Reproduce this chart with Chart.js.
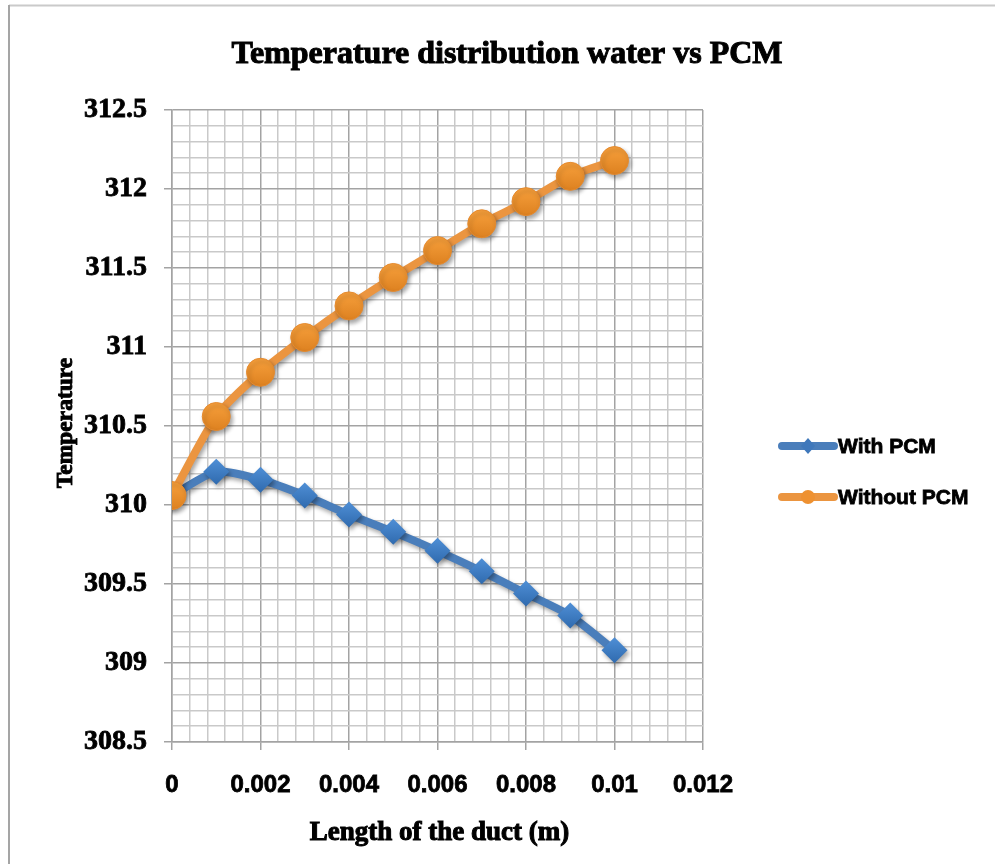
<!DOCTYPE html>
<html>
<head>
<meta charset="utf-8">
<script src="https://cdn.jsdelivr.net/npm/chart.js@4/dist/chart.umd.min.js"></script>
<style>
  html, body { margin: 0; padding: 0; background: #fff; }
  canvas { display: block; }
</style>
</head>
<body>
<canvas id="tempChart" width="995" height="864"></canvas>
<script>
// Length along the duct (m) and temperatures for both cases
const lengths = [0, 0.001, 0.002, 0.003, 0.004, 0.005, 0.006, 0.007, 0.008, 0.009, 0.01];
const withPcm = [310.06, 310.21, 310.16, 310.06, 309.94, 309.83, 309.71, 309.58, 309.44, 309.30, 309.08];
const withoutPcm = [310.06, 310.56, 310.84, 311.06, 311.26, 311.44, 311.61, 311.78, 311.92, 312.08, 312.18];

// Labelled ticks; the grid has 5 minor divisions between them
const xTickLabels = [0, 0.002, 0.004, 0.006, 0.008, 0.01, 0.012];
const yTickLabels = [308.5, 309, 309.5, 310, 310.5, 311, 311.5, 312, 312.5];
const minorDivisions = 5;

const BLUE = '#4a7ebb';
const ORANGE = '#eb9540';
const MAJOR_GRID = '#a3a3a3';
const MINOR_GRID = '#c9c9c9';
const SERIF = '"Liberation Serif", "Times New Roman", serif';
const SANS = '"Liberation Sans", Arial, sans-serif';

const isMajor = (v, list) => list.some(m => Math.abs(m - v) < 1e-9);

function withMinor(list) {
  const out = [];
  for (let i = 0; i < list.length; i++) {
    out.push({ value: list[i] });
    if (i < list.length - 1) {
      const step = (list[i + 1] - list[i]) / minorDivisions;
      for (let k = 1; k < minorDivisions; k++) out.push({ value: list[i] + step * k });
    }
  }
  return out;
}

const fmt = v => String(parseFloat(v.toFixed(4)));

// marker fill shaded from light on top to darker at the bottom
function markerFill(light, dark, r) {
  return ctx => {
    const chart = ctx.chart;
    const el = ctx.element;
    if (!el || !chart.ctx || el.y === undefined) return dark;
    const g = chart.ctx.createLinearGradient(0, el.y - r, 0, el.y + r);
    g.addColorStop(0, light);
    g.addColorStop(1, dark);
    return g;
  };
}

// heavy text: filled and outlined
function boldText(c, text, x, y, font, stroke) {
  c.font = font;
  c.fillStyle = '#000';
  c.strokeStyle = '#000';
  c.lineWidth = stroke;
  c.fillText(text, x, y);
  c.strokeText(text, x, y);
}

const decorations = {
  id: 'decorations',
  beforeDraw(chart) {
    const c = chart.ctx;
    c.save();
    c.lineWidth = 2;
    c.strokeStyle = '#cacaca';
    c.beginPath();
    c.moveTo(9, 5.5);
    c.lineTo(995, 5.5);
    c.stroke();
    c.strokeStyle = '#a5a5a5';
    c.beginPath();
    c.moveTo(9, 5);
    c.lineTo(9, 864);
    c.stroke();
    c.restore();
  },
  beforeDatasetDraw(chart) {
    const c = chart.ctx;
    c.save();
    c.shadowColor = 'rgba(0,0,0,0.35)';
    c.shadowBlur = 4;
    c.shadowOffsetX = 2;
    c.shadowOffsetY = 3;
  },
  afterDatasetDraw(chart) {
    chart.ctx.restore();
  },
  afterDraw(chart) {
    const c = chart.ctx;
    const area = chart.chartArea;
    c.save();
    c.textAlign = 'center';
    c.textBaseline = 'middle';
    boldText(c, 'Temperature distribution water vs PCM', 507, 55, 'bold 32px ' + SERIF, 1);

    // axis titles
    boldText(c, 'Length of the duct (m)', (area.left + area.right) / 2 + 2, 833, 'bold 27px ' + SERIF, 1);
    c.save();
    c.translate(66, (area.top + area.bottom) / 2 - 3);
    c.rotate(-Math.PI / 2);
    boldText(c, 'Temperature', 0, 0, 'bold 23.5px ' + SERIF, 0.9);
    c.restore();

    // legend
    const items = [
      { text: 'With PCM', color: BLUE, y: 446, shape: 'diamond' },
      { text: 'Without PCM', color: ORANGE, y: 497, shape: 'circle' }
    ];
    items.forEach(it => {
      c.strokeStyle = it.color;
      c.lineWidth = 8;
      c.lineCap = 'round';
      c.beginPath();
      c.moveTo(782, it.y);
      c.lineTo(834, it.y);
      c.stroke();
      c.fillStyle = it.shape === 'diamond' ? '#3f78bb' : '#ee9131';
      c.beginPath();
      if (it.shape === 'diamond') {
        c.moveTo(808, it.y - 8);
        c.lineTo(815, it.y);
        c.lineTo(808, it.y + 8);
        c.lineTo(801, it.y);
        c.closePath();
      } else {
        c.arc(808, it.y, 7, 0, Math.PI * 2);
      }
      c.fill();
      c.textAlign = 'left';
      boldText(c, it.text, 838, it.y + 1, 'bold 21px ' + SANS, 0.8);
    });
    c.restore();
  }
};

const ctx = document.getElementById('tempChart').getContext('2d');
new Chart(ctx, {
  type: 'line',
  data: {
    datasets: [
      {
        label: 'With PCM',
        data: lengths.map((x, i) => ({ x: x, y: withPcm[i] })),
        borderColor: BLUE,
        borderWidth: 8,
        tension: 0.25,
        pointStyle: 'rectRot',
        pointRadius: 13,
        pointBorderWidth: 0,
        pointBackgroundColor: markerFill('#4f8fd6', '#2f6aae', 13),
        order: 2
      },
      {
        label: 'Without PCM',
        data: lengths.map((x, i) => ({ x: x, y: withoutPcm[i] })),
        borderColor: ORANGE,
        borderWidth: 8,
        tension: 0.25,
        pointStyle: 'circle',
        pointRadius: 14,
        pointBorderWidth: 1,
        pointBorderColor: '#e58a2e',
        pointBackgroundColor: markerFill('#f7a03c', '#dd8120', 14),
        order: 1
      }
    ]
  },
  options: {
    responsive: false,
    animation: false,
    layout: { padding: { top: 110, right: 292, left: 0, bottom: 0 } },
    plugins: {
      legend: { display: false },
      tooltip: { enabled: false }
    },
    scales: {
      x: {
        type: 'linear',
        min: 0,
        max: 0.012,
        afterBuildTicks: scale => { scale.ticks = withMinor(xTickLabels); },
        afterFit: scale => { scale.height = 122; },
        grid: {
          color: c => isMajor(c.tick.value, xTickLabels) ? MAJOR_GRID : MINOR_GRID,
          tickColor: c => isMajor(c.tick.value, xTickLabels) ? MAJOR_GRID : 'transparent',
          lineWidth: 1.5,
          tickLength: 8
        },
        border: { color: MAJOR_GRID, width: 1.5 },
        ticks: {
          autoSkip: false,
          maxRotation: 0,
          minRotation: 0,
          padding: 21,
          color: '#000',
          textStrokeColor: '#000',
          textStrokeWidth: 0.8,
          font: { family: SANS, size: 24, weight: 'bold' },
          callback: v => isMajor(v, xTickLabels) ? fmt(v) : ''
        }
      },
      y: {
        type: 'linear',
        min: 308.5,
        max: 312.5,
        afterBuildTicks: scale => { scale.ticks = withMinor(yTickLabels); },
        afterFit: scale => { scale.width = 172; },
        grid: {
          color: c => isMajor(c.tick.value, yTickLabels) ? MAJOR_GRID : MINOR_GRID,
          tickColor: c => isMajor(c.tick.value, yTickLabels) ? MAJOR_GRID : 'transparent',
          lineWidth: 1.5,
          tickLength: 8
        },
        border: { color: MAJOR_GRID, width: 1.5 },
        ticks: {
          autoSkip: false,
          padding: 17,
          color: '#000',
          textStrokeColor: '#000',
          textStrokeWidth: 0.8,
          font: { family: SERIF, size: 28, weight: 'bold' },
          callback: v => isMajor(v, yTickLabels) ? fmt(v) : ''
        }
      }
    }
  },
  plugins: [decorations]
});
</script>
</body>
</html>
